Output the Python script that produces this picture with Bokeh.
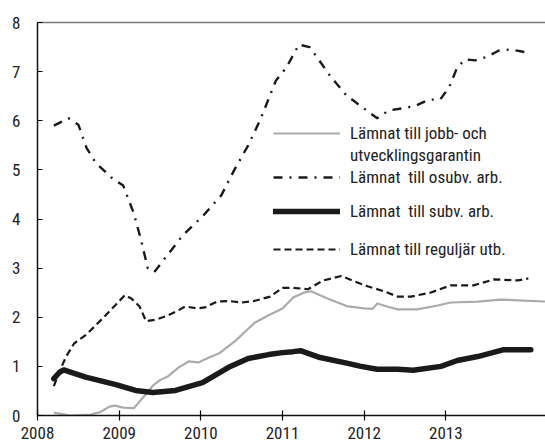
from bokeh.plotting import figure
from bokeh.models import Range1d, LinearAxis, FixedTicker, Legend, LegendItem
from bokeh.embed import file_html
from bokeh.resources import INLINE

FONT = "'Roboto Condensed', 'Liberation Sans Narrow', 'DejaVu Sans Condensed', sans-serif"

# ---- data (decimal years, values) ----
jobb_x = [2008.2, 2008.4, 2008.65, 2008.77, 2008.88, 2008.95, 2009.05, 2009.18, 2009.3, 2009.42,
          2009.5, 2009.6, 2009.73, 2009.85, 2009.97, 2010.1, 2010.22, 2010.43, 2010.55, 2010.67,
          2010.83, 2011.0, 2011.13, 2011.26, 2011.35, 2011.55, 2011.8, 2012.0, 2012.1, 2012.16,
          2012.28, 2012.41, 2012.65, 2012.9, 2013.06, 2013.39, 2013.67, 2013.95, 2014.22]
jobb_y = [0.06, 0.0, 0.02, 0.07, 0.18, 0.2, 0.16, 0.15, 0.38, 0.62,
          0.72, 0.8, 0.98, 1.1, 1.08, 1.18, 1.26, 1.53, 1.72, 1.9,
          2.04, 2.18, 2.4, 2.5, 2.53, 2.38, 2.22, 2.18, 2.17, 2.28,
          2.22, 2.16, 2.16, 2.24, 2.3, 2.32, 2.36, 2.34, 2.32]

osubv_x = [2008.2, 2008.38, 2008.5, 2008.6, 2008.71, 2008.9, 2009.05, 2009.18, 2009.27, 2009.35,
           2009.43, 2009.57, 2009.78, 2010.03, 2010.25, 2010.41, 2010.58, 2010.73, 2010.92, 2011.05,
           2011.2, 2011.33, 2011.45, 2011.56, 2011.66, 2011.78, 2011.9, 2012.03, 2012.16, 2012.3,
           2012.46, 2012.62, 2012.79, 2012.93, 2013.04, 2013.14, 2013.24, 2013.36, 2013.5, 2013.65,
           2013.79, 2013.93, 2014.02]
osubv_y = [5.9, 6.05, 5.92, 5.45, 5.15, 4.85, 4.68, 4.11, 3.56, 3.0,
           2.92, 3.22, 3.67, 4.07, 4.48, 5.0, 5.5, 6.03, 6.82, 7.09,
           7.55, 7.5, 7.23, 6.96, 6.76, 6.52, 6.37, 6.21, 6.05, 6.21,
           6.25, 6.3, 6.43, 6.43, 6.68, 7.09, 7.25, 7.23, 7.3, 7.43,
           7.45, 7.41, 7.37]

subv_x = [2008.2, 2008.27, 2008.32, 2008.59, 2008.96, 2009.2, 2009.41, 2009.69, 2010.02, 2010.34,
          2010.58, 2010.83, 2011.0, 2011.13, 2011.22, 2011.46, 2011.8, 2011.96, 2012.16, 2012.41,
          2012.6, 2012.94, 2013.14, 2013.39, 2013.71, 2014.04]
subv_y = [0.75, 0.88, 0.93, 0.78, 0.63, 0.51, 0.47, 0.51, 0.67, 0.98,
          1.16, 1.24, 1.28, 1.3, 1.32, 1.18, 1.06, 1.0, 0.94, 0.94,
          0.92, 1.0, 1.12, 1.2, 1.34, 1.34]

regul_x = [2008.2, 2008.27, 2008.35, 2008.45, 2008.6, 2008.8, 2008.95, 2009.07, 2009.15, 2009.25,
           2009.33, 2009.45, 2009.57, 2009.7, 2009.81, 2009.95, 2010.05, 2010.2, 2010.35, 2010.5,
           2010.65, 2010.85, 2011.0, 2011.13, 2011.31, 2011.5, 2011.72, 2011.85, 2012.04, 2012.24,
           2012.41, 2012.57, 2012.81, 2013.06, 2013.34, 2013.59, 2013.88, 2014.01]
regul_y = [0.6, 0.9, 1.2, 1.47, 1.65, 1.98, 2.24, 2.45, 2.38, 2.22,
           1.92, 1.95, 2.02, 2.12, 2.22, 2.18, 2.2, 2.32, 2.33, 2.3,
           2.33, 2.42, 2.6, 2.6, 2.57, 2.75, 2.84, 2.75, 2.63, 2.53,
           2.42, 2.42, 2.5, 2.65, 2.65, 2.77, 2.75, 2.79]

x_ticks = [2008, 2009, 2010, 2011, 2012, 2013]
y_ticks = [0, 1, 2, 3, 4, 5, 6, 7, 8]

labels = ["Lämnat till jobb- och", "utvecklingsgarantin",
          "Lämnat  till osubv. arb.",
          "Lämnat  till subv. arb.",
          "Lämnat till reguljär utb."]

p = figure(width=545, height=446, output_backend="svg", toolbar_location=None,
           x_range=Range1d(2008, 2014.22), y_range=Range1d(0, 8),
           x_axis_location=None, y_axis_location=None,
           min_border_left=37, min_border_right=0, min_border_top=22, min_border_bottom=31)
p.outline_line_color = None
p.grid.visible = False
p.background_fill_color = "white"

r1 = p.line(jobb_x, jobb_y, line_color="#ababab", line_width=2.2)
r2 = p.line(osubv_x, osubv_y, line_color="#1a1a1a", line_width=2.4, line_dash="9 7 2 7")
r3 = p.line(subv_x, subv_y, line_color="#1a1a1a", line_width=5.5, line_cap="round")
r4 = p.line(regul_x, regul_y, line_color="#1a1a1a", line_width=2.2, line_dash="7 4")

xaxis = LinearAxis(ticker=FixedTicker(ticks=x_ticks))
xaxis.axis_line_color = "#111111"
xaxis.axis_line_width = 1.5
xaxis.major_tick_in = 5
xaxis.major_tick_out = 5
xaxis.major_tick_line_width = 1.2
xaxis.minor_tick_line_color = None
xaxis.major_label_text_font = FONT
xaxis.major_label_text_font_size = "17px"
xaxis.major_label_text_color = "#222222"
xaxis.major_label_standoff = 6
p.add_layout(xaxis, "below")

yaxis = LinearAxis(ticker=FixedTicker(ticks=y_ticks))
yaxis.axis_line_color = "#111111"
yaxis.axis_line_width = 1.5
yaxis.major_tick_in = 5
yaxis.major_tick_out = 0
yaxis.major_tick_line_width = 1.2
yaxis.minor_tick_line_color = None
yaxis.major_label_text_font = FONT
yaxis.major_label_text_font_size = "17px"
yaxis.major_label_text_color = "#222222"
yaxis.major_label_standoff = 17
p.add_layout(yaxis, "left")

top = LinearAxis(ticker=FixedTicker(ticks=[]))
top.axis_line_color = "#777777"
top.axis_line_width = 1.5
top.major_tick_line_color = None
top.minor_tick_line_color = None
top.major_label_text_font_size = "0px"
p.add_layout(top, "above")


def make_legend(items, loc, pitch_h, spacing):
    lg = Legend(items=items, location=loc, orientation="vertical")
    lg.background_fill_alpha = 0
    lg.border_line_color = None
    lg.padding = 0
    lg.margin = 0
    lg.spacing = spacing
    lg.glyph_width = 67
    lg.glyph_height = pitch_h
    lg.label_height = pitch_h
    lg.label_standoff = 10
    lg.label_text_font = FONT
    lg.label_text_font_size = "17px"
    lg.label_text_color = "#222222"
    return lg


leg1 = make_legend([LegendItem(label=labels[0], renderers=[r1]),
                    LegendItem(label=labels[1], renderers=[]),
                    LegendItem(label=labels[2], renderers=[r2])], (236, 227), 22, 0)
leg2 = make_legend([LegendItem(label=labels[3], renderers=[r3]),
                    LegendItem(label=labels[4], renderers=[r4])], (236, 155), 22, 16)
p.add_layout(leg1, "center")
p.add_layout(leg2, "center")

open("out.html", "w").write(file_html(p, INLINE))
